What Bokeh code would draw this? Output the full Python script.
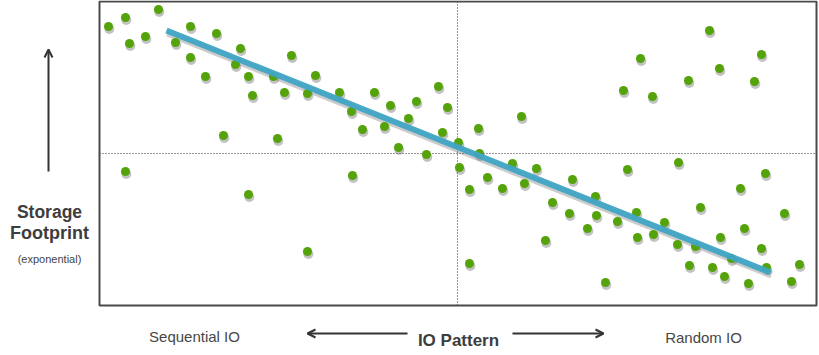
from bokeh.plotting import figure
from bokeh.models import Range1d, Label, Arrow, OpenHead, ColumnDataSource
from bokeh.embed import file_html
from bokeh.resources import INLINE

# Observations: x = IO randomness (0 = sequential), y = storage footprint
io_x = [9, 26, 59, 30, 46, 76, 91, 117, 91, 141, 136, 192, 106, 149, 174, 216, 153, 185, 208, 240,
        124, 178, 275, 339, 252, 291, 317, 348, 309, 263, 285, 343, 379, 422, 299, 359, 327, 380,
        610, 541, 662, 620, 589, 655, 524, 553, 26, 149, 208, 253, 360, 370, 388, 403, 413, 425,
        437, 473, 453, 470, 446, 370, 528, 579, 666, 641, 496, 601, 685, 537, 497, 518, 565, 488,
        645, 538, 554, 621, 578, 596, 662, 632, 590, 613, 667, 700, 625, 506, 649, 692]
footprint = [279, 288, 296, 262, 269, 263, 279, 272, 248, 257, 241, 250, 229, 229, 229, 230, 210, 213,
             212, 213, 170, 167, 213, 219, 194, 200, 204, 198, 187, 176, 179, 173, 177, 189, 158, 163,
             151, 152, 275, 247, 251, 237, 225, 224, 215, 209, 134, 111, 54, 130, 138, 116, 128, 117,
             142, 122, 137, 126, 103, 92, 65, 42, 136, 143, 132, 117, 109, 98, 92, 93, 90, 84, 83, 77,
             77, 68, 71, 68, 61, 59, 57, 47, 40, 38, 38, 41, 29, 23, 22, 24]

trend_x = [67, 671]
trend_y = [275, 33]

# chart box extents and quadrant dividers
x_min, x_max = 0, 717
y_min, y_max = 0, 304
x_mid = 358
y_mid = 152

y_label_lines = ["Storage", "Footprint"]
y_label_note = "(exponential)"
x_label = "IO Pattern"
x_left = "Sequential IO"
x_right = "Random IO"

DOT = "#54a30a"
LINE = "#3fa4c4"
TEXT = "#3d3d3d"

p = figure(width=819, height=355, output_backend="svg", toolbar_location=None,
           x_range=Range1d(-99, 720), y_range=Range1d(-50, 305),
           min_border=0)
p.xaxis.visible = False
p.yaxis.visible = False
p.xgrid.visible = False
p.ygrid.visible = False
p.outline_line_color = None
p.background_fill_color = "white"
p.border_fill_color = "white"

# quadrant dividers
p.line([x_mid, x_mid], [y_min, y_max], line_color="#333333", line_width=1, line_dash="1 2")
p.line([x_min, x_max], [y_mid, y_mid], line_color="#333333", line_width=1, line_dash="1 2")

src = ColumnDataSource(dict(x=io_x, y=footprint,
                            sx=[v + 0.8 for v in io_x], sy=[v - 2.5 for v in footprint]))

# trend line shadow
p.line([v + 1 for v in trend_x], [v - 2.5 for v in trend_y], line_color="#555555",
       line_alpha=0.3, line_width=7)
# dot shadows
p.scatter("sx", "sy", source=src, size=10, fill_color="#666666", fill_alpha=0.4, line_color=None)
p.scatter("x", "y", source=src, size=9, fill_color=DOT, line_color=None)
p.line(trend_x, trend_y, line_color=LINE, line_width=6, line_alpha=0.95)

# chart box
p.quad(left=[x_min], right=[x_max], bottom=[y_min], top=[y_max], fill_color=None,
       line_color="#4a4a4a", line_width=2)

def lab(x, y, t, size, bold=False, color=TEXT):
    p.add_layout(Label(x=x, y=y, text=t, text_align="center", text_baseline="alphabetic",
                       text_font="Liberation Sans", text_font_size=f"{size}px",
                       text_font_style="bold" if bold else "normal", text_color=color))

lab(-50, 94, y_label_lines[0], 17.5, True)
lab(-50, 73, y_label_lines[1], 18, True)
lab(-50, 47, y_label_note, 11, False, "#444444")
lab(95, -31, x_left, 15, False, "#474747")
lab(604, -32, x_right, 15, False, "#474747")
lab(359, -35, x_label, 17, True)

for xs, ys, xe, ye in ((-51, 134, -51, 256), (308, -28, 208, -28), (413, -28, 504, -28)):
    p.add_layout(Arrow(x_start=xs, y_start=ys, x_end=xe, y_end=ye, line_color="#333333",
                       line_width=2, end=OpenHead(size=8, line_color="#333333", line_width=2)))

open("out.html", "w").write(file_html(p, INLINE))
